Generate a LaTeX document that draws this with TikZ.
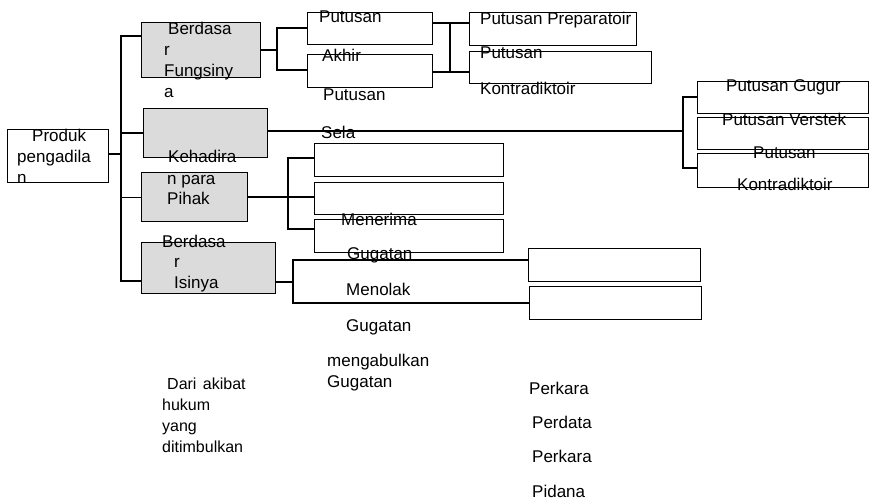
\documentclass[tikz,border=0pt]{standalone}
\usepackage{fontspec}
\setmainfont{Liberation Sans}
\begin{document}
\begin{tikzpicture}[x=1pt,y=-1pt,
  box/.style={draw, line width=1.2pt, inner sep=0pt, anchor=north west},
  greybox/.style={box, fill=black!14},
  txt/.style={anchor=base west, inner sep=0pt, font=\fontsize{17}{20}\selectfont},
  txts/.style={txt, font=\fontsize{16}{19}\selectfont},
  conn/.style={line width=1.2pt}]
\useasboundingbox (0,0) rectangle (870,500);
% boxes
\node[box, minimum width=101pt, minimum height=53pt] (prod) at (7,129) {};
\node[greybox, minimum width=119pt, minimum height=55pt] (fung) at (141,22) {};
\node[greybox, minimum width=124pt, minimum height=49pt] (mid) at (143,108) {};
\node[greybox, minimum width=106pt, minimum height=49pt] (keh) at (141,172) {};
\node[greybox, minimum width=134pt, minimum height=51pt] (isi) at (141,242) {};
\node[box, minimum width=125pt, minimum height=32pt] (ak1) at (307,12) {};
\node[box, minimum width=125pt, minimum height=33pt] (ak2) at (307,54) {};
\node[box, minimum width=167pt, minimum height=33pt] (prep) at (469,12) {};
\node[box, minimum width=182pt, minimum height=32pt] (kon1) at (469,51) {};
\node[box, minimum width=171pt, minimum height=32pt] (gug) at (697,81) {};
\node[box, minimum width=171pt, minimum height=32pt] (ver) at (697,117) {};
\node[box, minimum width=171pt, minimum height=34pt] (kon2) at (697,153) {};
\node[box, minimum width=189pt, minimum height=33pt] (ka) at (314,143) {};
\node[box, minimum width=189pt, minimum height=32pt] (kb) at (314,182) {};
\node[box, minimum width=189pt, minimum height=33pt] (kc) at (314,219) {};
\node[box, minimum width=172pt, minimum height=33pt] (ia) at (528,248) {};
\node[box, minimum width=172pt, minimum height=33pt] (ib) at (529,286) {};
% junction coordinates
\coordinate (t0) at (121,154);
\coordinate (t1) at (121,36);
\coordinate (t4) at (121,281);
\coordinate (f1) at (277,28);
\coordinate (f2) at (277,70);
\coordinate (a1) at (450,23);
\coordinate (a2) at (450,72);
\coordinate (m0) at (683,131);
\coordinate (m1) at (683,97);
\coordinate (m2) at (683,168);
\coordinate (k0) at (288,197);
\coordinate (k1) at (288,158);
\coordinate (k3) at (288,229);
\coordinate (i0) at (293,282);
\coordinate (i1) at (293,260);
\coordinate (i2) at (293,303);
% connectors
\draw[conn] (prod.east |- t0) -- (t0);
\draw[conn] (fung.west |- t1) -- (t1) -- (t4) -- (isi.west |- t4);
\draw[conn] (mid.west) -- (mid.west -| t1);
\draw[conn] (keh.west) -- (keh.west -| t1);
\draw[conn] (fung.east) -- (fung.east -| f1);
\draw[conn] (ak1.west |- f1) -- (f1) -- (f2) -- (ak2.west |- f2);
\draw[conn] (ak1.east |- a1) -- (a1) -- (prep.west |- a1);
\draw[conn] (ak2.east |- a2) -- (a2) -- (kon1.west |- a2);
\draw[conn] (a1) -- (a2);
\draw[conn] (mid.east |- m0) -- (m0);
\draw[conn] (gug.west |- m1) -- (m1) -- (m2) -- (kon2.west |- m2);
\draw[conn] (keh.east |- k0) -- (kb.west |- k0);
\draw[conn] (ka.west |- k1) -- (k1) -- (k3) -- (kc.west |- k3);
\draw[conn] (isi.east |- i0) -- (i0);
\draw[conn] (ia.west |- i1) -- (i1) -- (i2) -- (ib.west |- i2);
% texts
\node[txt] (p1) at (32,142) {Produk};
\node[txt] (p2) at (17,163) {pengadila};
\node[txt] (p3) at (17,183) {n};
\node[txt] (b1) at (168,35) {Berdasa};
\node[txt] (b2) at (164,56) {r};
\node[txt] (b3) at (164,77) {Fungsiny};
\node[txt] (b4) at (164,98) {a};
\node[txt] (h1) at (168,163) {Kehadira};
\node[txt] (h2) at (167,184) {n para};
\node[txt] (h3) at (167,204) {Pihak};
\node[txt] (s1) at (162,247) {Berdasa};
\node[txt] (s2) at (174,267) {r};
\node[txt] (s3) at (174,288) {Isinya};
\node[txt] (u1) at (319,23) {Putusan};
\node[txt] (u2) at (322,62) {Akhir};
\node[txt] (u3) at (323,101) {Putusan};
\node[txt] (u4) at (321,139) {Sela};
\node[txt] (r1) at (480,25) {Putusan Preparatoir};
\node[txt] (r2) at (480,59) {Putusan};
\node[txt] (r3) at (480,95) {Kontradiktoir};
\node[txt] (g1) at (726,92) {Putusan Gugur};
\node[txt] (g2) at (722,126) {Putusan Verstek};
\node[txt] (g3) at (753,159) {Putusan};
\node[txt] (g4) at (737,190) {Kontradiktoir};
\node[txt] (n1) at (341,225) {Menerima};
\node[txt] (n2) at (347,259) {Gugatan};
\node[txt] (n3) at (346,295) {Menolak};
\node[txt] (n4) at (346,331) {Gugatan};
\node[txt] (n5) at (327,366) {mengabulkan};
\node[txt] (n6) at (327,387) {Gugatan};
\node[txts] (d1) at (167,389) {Dari\hspace{0.4em}akibat};
\node[txts] (d2) at (162,410) {hukum};
\node[txts] (d3) at (162,431) {yang};
\node[txts] (d4) at (162,452) {ditimbulkan};
\node[txt] (e1) at (529,394) {Perkara};
\node[txt] (e2) at (532,428) {Perdata};
\node[txt] (e3) at (532,462) {Perkara};
\node[txt] (e4) at (532,497) {Pidana};
\end{tikzpicture}
\end{document}
